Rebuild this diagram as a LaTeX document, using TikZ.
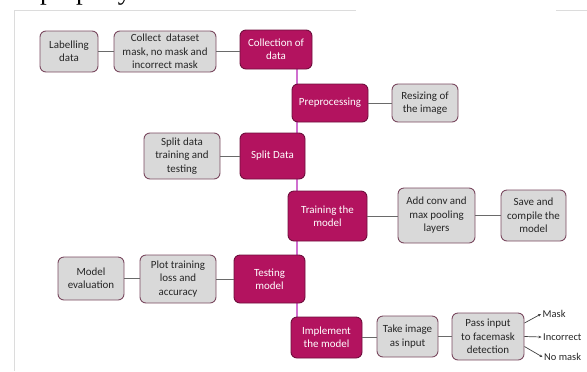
\documentclass[tikz,border=0pt]{standalone}
\usepackage{fontspec}
\setmainfont{Carlito}
\newfontfamily\serifft{Liberation Serif}
\usetikzlibrary{calc,arrows.meta,backgrounds}
\definecolor{mag}{HTML}{B3135F}
\definecolor{magdark}{HTML}{6E0E3C}
\definecolor{grayfill}{HTML}{D9D9D9}
\definecolor{grayedge}{HTML}{7A4A60}
\definecolor{trunkc}{HTML}{D070D0}
\definecolor{linkc}{HTML}{6A6A6A}
\definecolor{framec}{HTML}{DCDCDC}
\begin{document}
\begin{tikzpicture}[x=1bp,y=-1bp,
  base/.style={rounded corners=6bp, align=center, font=\fontsize{11}{13.5}\selectfont, inner sep=0pt, line width=0.9bp},
  magbox/.style={base, fill=mag, draw=magdark, text=white},
  graybox/.style={base, fill=grayfill, draw=grayedge, text=black!85},
  link/.style={draw=linkc, line width=0.9bp},
  trunk/.style={draw=trunkc, line width=1.2bp},
  arr/.style={draw=black!75, line width=0.7bp, -{Stealth[length=3bp,width=2.6bp]}},
  lbl/.style={font=\fontsize{10.5}{12}\selectfont, inner sep=0pt, anchor=west, text=black!85},
  frame/.style={draw=framec, line width=1bp}
]
\useasboundingbox (0,0) rectangle (587,371);
% frame and clipped heading
\coordinate (fbl) at (14,371);
\coordinate (ftl) at (14,10);
\coordinate (ftm) at (356,10);
\coordinate (ftr1) at (556,10);
\coordinate (ftr2) at (587,10);
\draw[frame] (fbl) -- (ftl) -- (ftm);
\draw[frame] (ftr1) -- (ftr2);
\node[anchor=base west, inner sep=0pt, font=\serifft\fontsize{27}{30}\selectfont] (ttl) at (40,-0.5) {properly.};

% row 1
\node[graybox, minimum width=58bp, minimum height=41bp] (lab) at (69,51.5) {Labelling\\data};
\node[graybox, minimum width=102bp, minimum height=41bp] (col) at (165,51.5) {Collect\ \ dataset\\mask, no mask and\\incorrect mask};
\node[magbox, minimum width=72bp, minimum height=39bp] (coll) at (276,49.5) {Collection of\\data};
% row 2
\node[magbox, minimum width=76bp, minimum height=38bp] (pre) at (330,103) {Preprocessing};
\node[graybox, minimum width=66bp, minimum height=38bp] (res) at (425,103) {Resizing of\\the image};
% row 3
\node[graybox, minimum width=76bp, minimum height=46bp] (spl) at (182,156) {Split data\\training and\\testing};
\node[magbox, minimum width=65bp, minimum height=46bp] (splD) at (272.5,156) {Split Data};
% row 4
\node[magbox, minimum width=79bp, minimum height=50bp] (tr) at (327.5,216) {Training the\\model};
\node[graybox, minimum width=77bp, minimum height=55bp] (add) at (436.5,215.5) {Add conv and\\max pooling\\layers};
\node[graybox, minimum width=65bp, minimum height=51bp] (save) at (533.5,215.5) {Save and\\compile the\\model};
% row 5
\node[graybox, minimum width=66bp, minimum height=43bp] (me) at (91,278.5) {Model\\evaluation};
\node[graybox, minimum width=76bp, minimum height=48bp] (plot) at (178,279) {Plot training\\loss and\\accuracy};
\node[magbox, minimum width=71bp, minimum height=48bp] (test) at (269.5,279) {Testing\\model};
% row 6
\node[magbox, minimum width=71bp, minimum height=41bp] (imp) at (326.5,337.5) {Implement\\the model};
\node[graybox, minimum width=61bp, minimum height=41bp] (take) at (407.5,336.5) {Take image\\as input};
\node[graybox, minimum width=72bp, minimum height=47bp] (pass) at (488,336.5) {Pass input\\to facemask\\detection};
% outputs
\node[lbl] (mask) at (542.5,314) {Mask};
\node[lbl] (inc) at (543,337) {Incorrect};
\node[lbl] (nom) at (544,357) {No mask};

% trunk behind the main nodes
\coordinate (tx) at (297,0);
\begin{scope}[on background layer]
\draw[trunk] (coll.south -| tx) -- (imp.north -| tx);
\end{scope}

% horizontal links
\draw[link] (lab.east) -- (lab.east -| col.west);
\draw[link] (col.east) -- (col.east -| coll.west);
\draw[link] (pre.east) -- (pre.east -| res.west);
\draw[link] (spl.east) -- (spl.east -| splD.west);
\draw[link] (tr.east) -- (tr.east -| add.west);
\draw[link] (add.east) -- (add.east -| save.west);
\draw[link] (me.east) -- (me.east -| plot.west);
\draw[link] (plot.east) -- (plot.east -| test.west);
\draw[link] (imp.east) -- (imp.east -| take.west);
\draw[link] (take.east) -- (take.east -| pass.west);

% output arrows
\draw[arr] ([yshift=13.5bp]pass.east) -- ([xshift=-1.5bp]mask.west);
\draw[arr] (pass.east) -- ([xshift=-1.5bp]inc.west);
\draw[arr] ([yshift=-10bp]pass.east) -- ([xshift=-1.5bp]nom.west);
\end{tikzpicture}
\end{document}
